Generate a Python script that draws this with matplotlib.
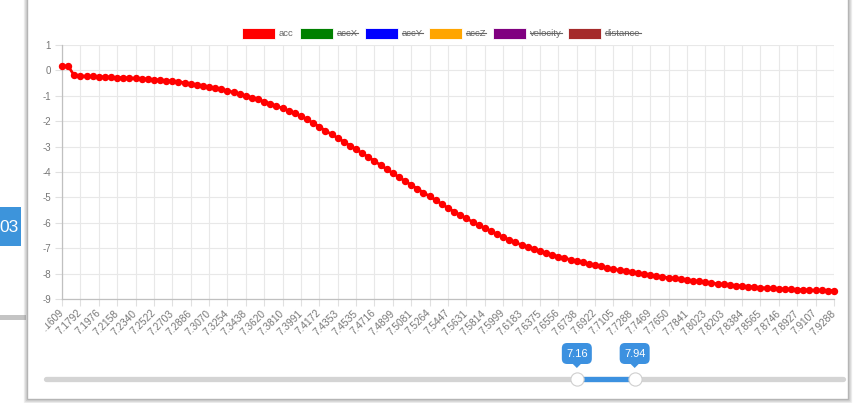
import matplotlib
matplotlib.use("Agg")
import matplotlib.pyplot as plt
from matplotlib.patches import Rectangle, Polygon, FancyBboxPatch
from matplotlib.lines import Line2D
from matplotlib.transforms import Bbox, TransformedBbox

plt.rcParams['font.family'] = ['Liberation Sans', 'DejaVu Sans']

# ---------------- data ----------------
tick_labels = ["7.1609", "7.1792", "7.1976", "7.2158", "7.2340", "7.2522", "7.2703",
               "7.2886", "7.3070", "7.3254", "7.3438", "7.3620", "7.3810", "7.3991",
               "7.4172", "7.4353", "7.4535", "7.4716", "7.4899", "7.5081", "7.5264",
               "7.5447", "7.5631", "7.5814", "7.5999", "7.6183", "7.6375", "7.6556",
               "7.6738", "7.6922", "7.7105", "7.7288", "7.7469", "7.7650", "7.7841",
               "7.8023", "7.8203", "7.8384", "7.8565", "7.8746", "7.8927", "7.9107",
               "7.9288"]
label_every = 3

acc = [0.17, 0.17, -0.20, -0.22, -0.23, -0.24, -0.25, -0.26, -0.27, -0.28,
       -0.29, -0.30, -0.31, -0.33, -0.34, -0.36, -0.38, -0.40, -0.42, -0.45,
       -0.48, -0.52, -0.56, -0.60, -0.65, -0.70, -0.75, -0.80, -0.86, -0.93,
       -1.00, -1.07, -1.14, -1.23, -1.31, -1.40, -1.49, -1.59, -1.69, -1.80,
       -1.93, -2.07, -2.22, -2.37, -2.52, -2.66, -2.81, -2.96, -3.11, -3.26,
       -3.41, -3.57, -3.73, -3.89, -4.05, -4.20, -4.36, -4.51, -4.66, -4.81,
       -4.96, -5.11, -5.26, -5.42, -5.56, -5.70, -5.83, -5.96, -6.09, -6.21,
       -6.33, -6.45, -6.56, -6.67, -6.77, -6.87, -6.96, -7.04, -7.12, -7.19,
       -7.26, -7.33, -7.39, -7.45, -7.51, -7.56, -7.62, -7.67, -7.72, -7.77,
       -7.82, -7.87, -7.91, -7.95, -7.99, -8.03, -8.07, -8.10, -8.13, -8.16,
       -8.19, -8.22, -8.25, -8.28, -8.31, -8.34, -8.37, -8.40, -8.42, -8.45,
       -8.47, -8.49, -8.51, -8.53, -8.55, -8.57, -8.58, -8.60, -8.61, -8.62,
       -8.63, -8.64, -8.65, -8.66, -8.66, -8.67, -8.67]

legend_names = ["acc", "accX", "accY", "accZ", "velocity", "distance"]
legend_colors = ["#ff0000", "#008000", "#0000ff", "#ffa500", "#800080", "#a52a2a"]
legend_hidden = [False, True, True, True, True, True]

y_ticks = [-9, -8, -7, -6, -5, -4, -3, -2, -1, 0, 1]

slider_min, slider_max = 0.0, 10.75
slider_values = [7.16, 7.94]
slider_labels = ["7.16", "7.94"]
side_badge = "03"

# ---------------- figure ----------------
W, H = 867, 403
fig = plt.figure(figsize=(W / 100, H / 100), dpi=100)
fig.patch.set_facecolor("white")


def fx(px):
    return px / W


def fy(py):
    return 1 - py / H


# background decorations (page behind the card)
fig.add_artist(Rectangle((fx(0), fy(320)), fx(26), fy(315) - fy(320),
                         transform=fig.transFigure, facecolor="#c4c4c4",
                         edgecolor="none", zorder=-5))
fig.add_artist(Rectangle((fx(0), fy(246)), fx(21), fy(207) - fy(246),
                         transform=fig.transFigure, facecolor="#3d94db",
                         edgecolor="none", zorder=-5))
fig.text(fx(9), fy(227), side_badge, color="white", fontsize=12.5, ha="center",
         va="center", zorder=-4)

# card shadow + card
for off, a in [(3, 0.10), (2, 0.18), (1, 0.28)]:
    fig.add_artist(Rectangle((fx(27 - off), fy(399 + off)), fx(848 + 2 * off) - fx(27),
                             fy(-10) - fy(399 + off), transform=fig.transFigure,
                             facecolor="none", edgecolor=(0.4, 0.4, 0.4, a), lw=1,
                             zorder=-3))
fig.add_artist(Rectangle((fx(27), fy(399)), fx(848) - fx(27), fy(-10) - fy(399),
                         transform=fig.transFigure, facecolor="white",
                         edgecolor="#b5b5b5", lw=1, zorder=-2))

# ---------------- chart ----------------
ax = fig.add_axes([fx(62), fy(299), fx(834) - fx(62), fy(45) - fy(299)])
ax.set_zorder(5)
ax.set_facecolor("none")
n = len(acc)
xs = list(range(n))
ax.plot(xs, acc, color="#ff0000", lw=2, marker="o", ms=4.3, mfc="#ff0000",
        mec="#ff0000", clip_on=False, zorder=3)
ax.set_xlim(0, n - 1)
ax.set_ylim(-9, 1)
ax.set_yticks(y_ticks)
ax.set_yticklabels([str(v) for v in y_ticks])
tick_pos = list(range(0, n, label_every))
ax.set_xticks(tick_pos)
ax.set_xticklabels(tick_labels, rotation=45, ha="right", va="center",
                   rotation_mode="anchor")
ax.grid(True, color="#e8e8e8", lw=0.8)
ax.set_axisbelow(True)
for s in ["top", "right"]:
    ax.spines[s].set_visible(False)
for s in ["left", "bottom"]:
    ax.spines[s].set_color("#c0c0c0")
    ax.spines[s].set_linewidth(0.9)
ax.tick_params(axis="both", length=5, color="#e0e0e0", labelcolor="#777777",
               labelsize=7)
ax.tick_params(axis="x", pad=4, labelsize=7.3)
ax.tick_params(axis="y", pad=3)

# clip first x label like the reference
first = ax.get_xticklabels()[0]
first.set_clip_on(True)
first.set_clip_box(TransformedBbox(Bbox.from_extents(fx(45), 0, 1, 1), fig.transFigure))

# ---------------- legend ----------------
legend_box_x = [242, 300, 365, 429, 493, 568]
fig.canvas.draw()
renderer = fig.canvas.get_renderer()
for name, col, hid, bx in zip(legend_names, legend_colors, legend_hidden, legend_box_x):
    fig.add_artist(Rectangle((fx(bx), fy(38.5)), fx(33), fy(27.5) - fy(38.5),
                             transform=fig.transFigure, facecolor=col,
                             edgecolor="white", lw=0.6))
    t = fig.text(fx(bx + 37), fy(33), name, color="#666666", fontsize=6.8,
                 ha="left", va="center")
    if hid:
        bb = t.get_window_extent(renderer)
        fig.add_artist(Line2D([bb.x0 / fig.bbox.width, bb.x1 / fig.bbox.width],
                              [fy(33)] * 2, transform=fig.transFigure,
                              color="#666666", lw=0.8))

# ---------------- slider ----------------
track_x0, track_x1, track_y = 46, 843, 379


def slider_px(v):
    return track_x0 + (v - slider_min) / (slider_max - slider_min) * (track_x1 - track_x0)


fig.add_artist(Line2D([fx(track_x0), fx(track_x1)], [fy(track_y)] * 2,
                      transform=fig.transFigure, lw=3.8, color="#d4d4d4",
                      solid_capstyle="round"))
hp = [slider_px(v) for v in slider_values]
fig.add_artist(Line2D([fx(hp[0]), fx(hp[1])], [fy(track_y)] * 2,
                      transform=fig.transFigure, lw=3.8, color="#3c91e0"))
for px, lab in zip(hp, slider_labels):
    fig.add_artist(Line2D([fx(px)], [fy(track_y)], transform=fig.transFigure,
                          marker="o", ms=9.5, mfc="white", mec="#cfcfcf", mew=0.8))
    fig.add_artist(FancyBboxPatch((fx(px - 15), fy(364)), fx(30), fy(343) - fy(364),
                                  boxstyle="round,pad=0,rounding_size=0.006",
                                  transform=fig.transFigure, facecolor="#3c91e0",
                                  edgecolor="none", mutation_aspect=W / H))
    fig.add_artist(Polygon([(fx(px - 4), fy(364)), (fx(px + 4), fy(364)),
                            (fx(px), fy(368))], closed=True,
                           transform=fig.transFigure, facecolor="#3c91e0",
                           edgecolor="none"))
    fig.text(fx(px), fy(354), lab, color="white", fontsize=8, ha="center", va="center")

fig.savefig("out.png", dpi=100, facecolor="white")
